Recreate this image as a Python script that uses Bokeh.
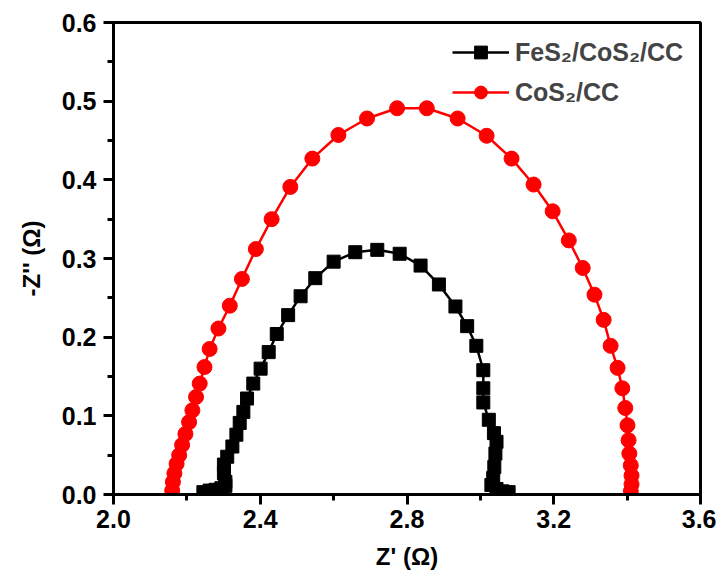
from bokeh.plotting import figure
from bokeh.embed import file_html
from bokeh.resources import INLINE
from bokeh.models import FixedTicker, PrintfTickFormatter, Range1d

# FeS2/CoS2/CC  (Z', -Z'')
fes_x = [2.245, 2.262, 2.278, 2.294, 2.305, 2.305, 2.301, 2.301, 2.310, 2.324,
         2.335, 2.344, 2.354, 2.364, 2.381, 2.401, 2.423, 2.445, 2.476, 2.510,
         2.550, 2.600, 2.659, 2.719, 2.780, 2.837, 2.887, 2.932, 2.964, 2.989,
         3.008, 3.008, 3.008, 3.023, 3.037, 3.044, 3.041, 3.038, 3.035, 3.030,
         3.044, 3.060, 3.077]
fes_y = [0.003, 0.005, 0.006, 0.008, 0.011, 0.016, 0.027, 0.038, 0.048, 0.061,
         0.076, 0.091, 0.105, 0.122, 0.141, 0.160, 0.181, 0.204, 0.228, 0.252,
         0.275, 0.296, 0.308, 0.311, 0.306, 0.291, 0.267, 0.239, 0.214, 0.189,
         0.158, 0.135, 0.117, 0.095, 0.078, 0.067, 0.052, 0.035, 0.021, 0.012,
         0.007, 0.004, 0.003]

# CoS2/CC
cos_x = [2.160, 2.162, 2.166, 2.172, 2.179, 2.187, 2.196, 2.206, 2.215, 2.225,
         2.235, 2.248, 2.262, 2.286, 2.317, 2.350, 2.388, 2.431, 2.482, 2.542,
         2.613, 2.691, 2.773, 2.854, 2.938, 3.017, 3.085, 3.145, 3.197, 3.241,
         3.279, 3.311, 3.336, 3.355, 3.374, 3.387, 3.395, 3.401, 3.404, 3.406,
         3.410, 3.412, 3.412, 3.410]
cos_y = [0.005, 0.016, 0.027, 0.039, 0.050, 0.063, 0.077, 0.092, 0.107, 0.124,
         0.141, 0.162, 0.185, 0.211, 0.240, 0.274, 0.312, 0.350, 0.391, 0.427,
         0.457, 0.478, 0.491, 0.491, 0.478, 0.456, 0.427, 0.394, 0.360, 0.323,
         0.288, 0.254, 0.222, 0.189, 0.161, 0.135, 0.110, 0.088, 0.069, 0.052,
         0.037, 0.024, 0.013, 0.004]

x_ticks = [2.0, 2.4, 2.8, 3.2, 3.6]
y_ticks = [0.0, 0.1, 0.2, 0.3, 0.4, 0.5, 0.6]

FONT = "Liberation Sans"

p = figure(output_backend="svg", toolbar_location=None,
           frame_width=587, frame_height=472,
           x_range=Range1d(2.0, 3.6), y_range=Range1d(0.0, 0.6),
           min_border_left=113, min_border_right=16,
           min_border_top=22, min_border_bottom=80)

p.line(fes_x, fes_y, line_color="black", line_width=2.5, legend_label="FeS₂/CoS₂/CC")
p.scatter(fes_x, fes_y, marker="square", size=13, fill_color="black",
          line_color="black", legend_label="FeS₂/CoS₂/CC")
p.line(cos_x, cos_y, line_color="#FF0000", line_width=2.5, legend_label="CoS₂/CC")
p.scatter(cos_x, cos_y, marker="circle", size=15, fill_color="#FF0000",
          line_color="#FF0000", legend_label="CoS₂/CC")

p.xgrid.visible = False
p.ygrid.visible = False
p.outline_line_color = "black"
p.outline_line_width = 3
p.outline_line_alpha = 1.0

for ax in (p.xaxis[0], p.yaxis[0]):
    ax.axis_line_width = 3
    ax.major_tick_line_width = 3
    ax.minor_tick_line_width = 3
    ax.major_tick_in = 0
    ax.minor_tick_in = 0
    ax.major_tick_out = 10
    ax.minor_tick_out = 6
    ax.major_label_text_font = FONT
    ax.major_label_text_font_style = "bold"
    ax.major_label_text_font_size = "25px"
    ax.major_label_text_color = "black"
    ax.axis_label_text_font = FONT
    ax.axis_label_text_font_style = "bold"
    ax.axis_label_text_font_size = "24px"
    ax.axis_label_text_color = "black"
    ax.formatter = PrintfTickFormatter(format="%.1f")

p.xaxis[0].ticker = FixedTicker(ticks=x_ticks, minor_ticks=[2.2, 2.6, 3.0, 3.4])
p.yaxis[0].ticker = FixedTicker(ticks=y_ticks,
                                minor_ticks=[0.05, 0.15, 0.25, 0.35, 0.45, 0.55])
p.xaxis[0].axis_label = "Z' (Ω)"
p.yaxis[0].axis_label = "-Z'' (Ω)"
p.xaxis[0].major_label_standoff = 5
p.yaxis[0].major_label_standoff = 7
p.xaxis[0].axis_label_standoff = 12
p.yaxis[0].axis_label_standoff = 14

lg = p.legend[0]
lg.location = (339, 386)
lg.border_line_color = None
lg.background_fill_alpha = 0
lg.label_text_font = FONT
lg.label_text_font_style = "bold"
lg.label_text_font_size = "25px"
lg.glyph_width = 57
lg.glyph_height = 32
lg.label_height = 32
lg.label_standoff = 6
lg.spacing = 8
lg.margin = 0
lg.padding = 6

open("out.html", "w").write(file_html(p, INLINE))
